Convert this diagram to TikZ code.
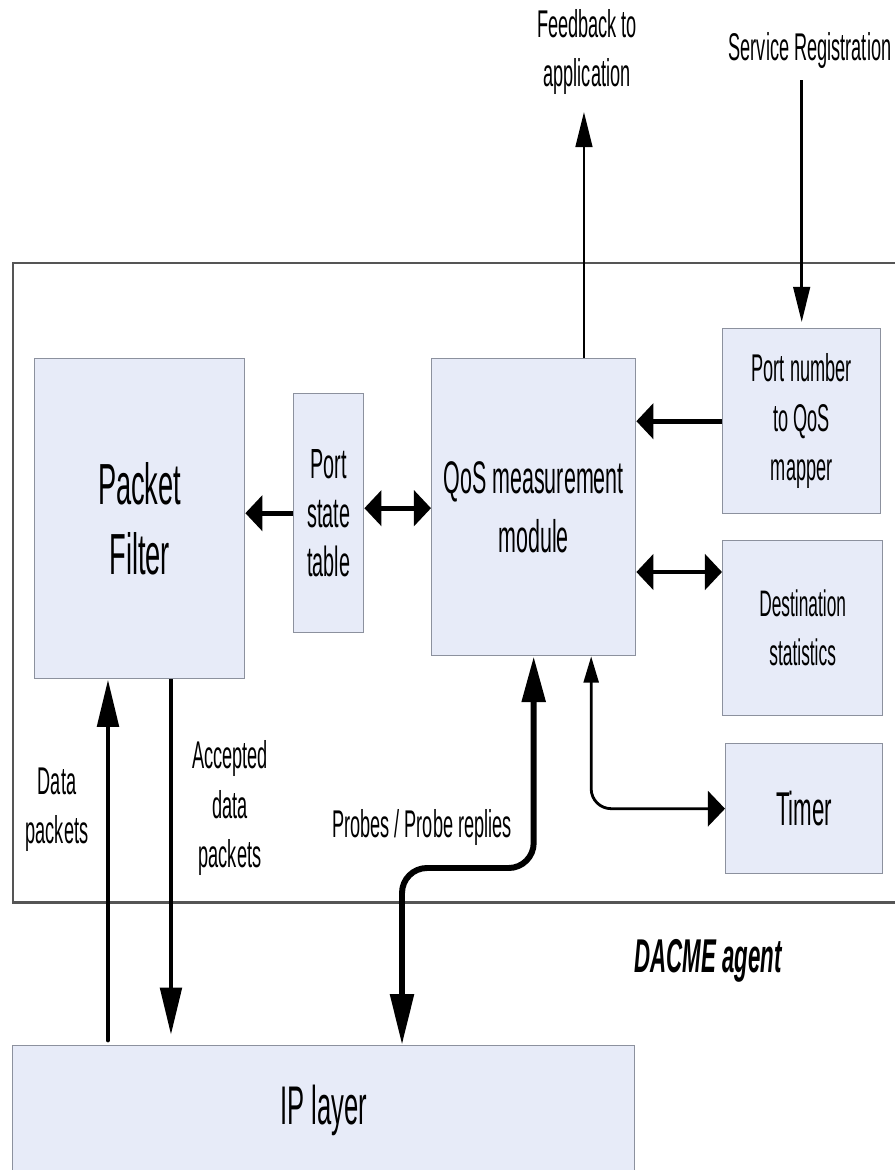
\documentclass[tikz,border=0pt]{standalone}
\usepackage{fontspec}
\setmainfont{Liberation Sans}[FakeStretch=0.47]
\usetikzlibrary{arrows.meta, calc}
\definecolor{BoxFill}{RGB}{231,235,248}
\definecolor{BoxLine}{RGB}{140,145,158}
\definecolor{FrameColor}{RGB}{85,85,85}
\tikzset{
  block/.style={draw=BoxLine, fill=BoxFill, line width=0.8pt, inner sep=0pt, anchor=north west, align=center},
  lbl/.style={inner sep=0pt, align=center},
  frame/.style={draw=FrameColor, line width=1.7pt},
  harr/.style={line width=2.8pt, -{Triangle[length=9.7pt, width=20pt]}},
  hdbl/.style={line width=2.8pt, {Triangle[length=9.7pt, width=20pt]}-{Triangle[length=9.7pt, width=20pt]}},
  varr/.style={line width=2.8pt, -{Triangle[length=27pt, width=12pt]}},
  thinarr/.style={line width=1.4pt, -{Triangle[length=20pt, width=9.5pt]}},
  probe/.style={line width=3.4pt, {Triangle[length=26pt, width=13pt]}-{Triangle[length=29pt, width=13pt]}},
  tline/.style={line width=1.6pt, {Triangle[length=15pt, width=8.5pt]}-{Triangle[length=9.7pt, width=20pt]}}
}
\begin{document}
\begin{tikzpicture}[x=0.02cm, y=-0.02cm]
  \useasboundingbox (0,0) rectangle (895,1170);
  \clip (0,0) rectangle (895,1170);
  % Agent frame
  \draw[frame] (905,263) -- (13,263) -- (13,902) -- (905,902);
  % Blocks
  \node[block, minimum width=4.2cm, minimum height=6.4cm, font=\fontsize{33}{40}\selectfont] (pf) at (34,358) {Packet\\Filter};
  \node[block, minimum width=1.4cm, minimum height=4.78cm, font=\fontsize{24}{28}\selectfont] (pst) at (293,393) {Port\\state\\table};
  \node[block, minimum width=4.08cm, minimum height=5.94cm, font=\fontsize{26}{34}\selectfont] (qos) at (431,358) {QoS measurement\\module};
  \node[block, minimum width=3.16cm, minimum height=3.7cm, font=\fontsize{22}{28}\selectfont] (map) at (722,328) {Port number\\to QoS\\mapper};
  \node[block, minimum width=3.2cm, minimum height=3.5cm, font=\fontsize{21}{28}\selectfont] (dst) at (722,540) {Destination\\statistics};
  \node[block, minimum width=3.14cm, minimum height=2.6cm, font=\fontsize{27}{30}\selectfont] (tmr) at (725,743) {Timer};
  \node[block, minimum width=12.44cm, minimum height=2.6cm, font=\fontsize{31}{34}\selectfont] (ip) at (12,1045) {IP layer};
  % Labels
  \node[lbl, font=\fontsize{22}{28}\selectfont] (fbtext) at (587,52) {Feedback to\\application};
  \node[lbl, font=\fontsize{22}{28}\selectfont, anchor=base] (srv) at (810,60) {Service Registration};
  \node[lbl, font=\fontsize{22}{28}\selectfont] (dlab) at (57,810) {Data\\packets};
  \node[lbl, font=\fontsize{22}{28}\selectfont] (alab) at (230,808) {Accepted\\data\\packets};
  \node[lbl, font=\fontsize{22}{28}\selectfont, anchor=base] (plab) at (422,837) {Probes / Probe replies};
  \node[lbl, font=\bfseries\itshape\fontsize{27}{30}\selectfont, anchor=base] (agent) at (708,972) {DACME agent};
  % Helper points
  \coordinate (pq) at ([yshift=0.1cm]pst.east);
  \coordinate (qd) at ([yshift=-0.64cm]dst.north west);
  \coordinate (din) at ([xshift=1.48cm]pf.south west);
  \coordinate (dout) at ([xshift=2.74cm]pf.south west);
  \coordinate (tq) at ([xshift=1.15cm]qos.south);
  \coordinate (fq) at ([xshift=3.06cm]qos.north west);
  \coordinate (pbend) at (402,868);
  % Arrows inside the agent
  \draw[harr] (pst.west) -- (pst.west -| pf.east);
  \draw[hdbl] (pq) -- (pq -| qos.west);
  \draw[harr] (map.west) -- (map.west -| qos.east);
  \draw[hdbl] (qd) -- (qd -| qos.east);
  \draw[tline, rounded corners=0.4cm] (tq) |- (tmr.west);
  % Data paths to the IP layer
  \draw[varr, line cap=round, shorten <=0.1cm] (din |- ip.north) -- (din);
  \draw[varr, shorten >=0.2cm] (dout) -- (dout |- ip.north);
  \draw[probe, rounded corners=0.5cm] (qos.south) |- (pbend) -- (pbend |- ip.north);
  % Application side
  \draw[thinarr, shorten >=0.34cm] (fq) -- (fq |- fbtext.south);
  \draw[thinarr, shorten <=0.24cm, shorten >=0.12cm] (srv.south -| map.north) -- (map.north);
\end{tikzpicture}
\end{document}
